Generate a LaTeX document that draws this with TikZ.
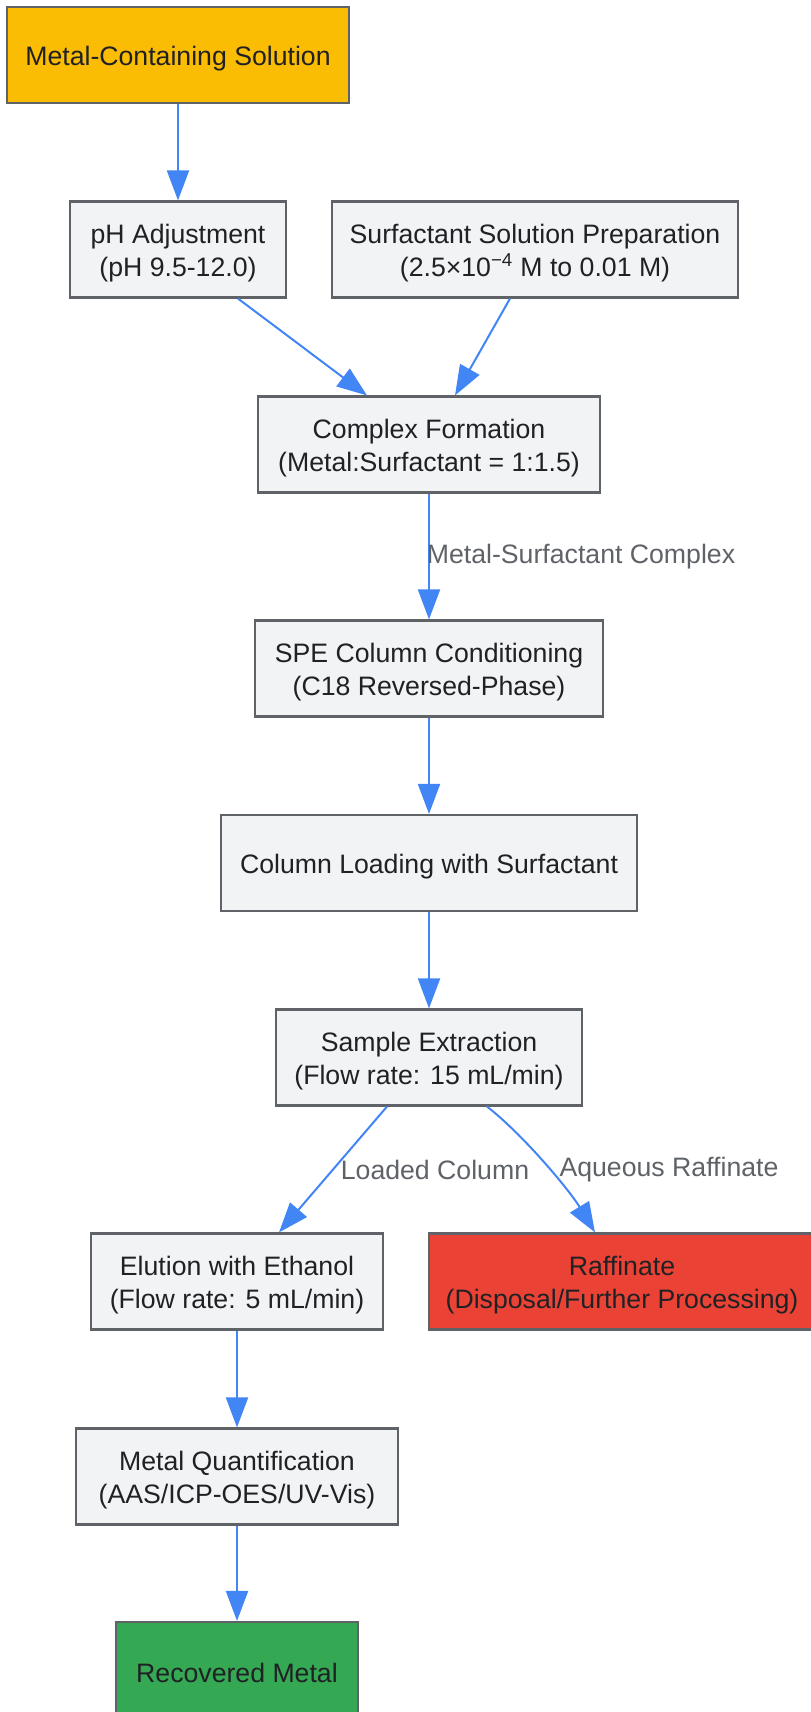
\documentclass[tikz,border=0pt]{standalone}
\usepackage{fontspec}
\setmainfont{Liberation Sans}
\usetikzlibrary{arrows.meta,calc}

\definecolor{flowblue}{HTML}{4285F4}
\definecolor{boxgray}{HTML}{F1F3F4}
\definecolor{boxline}{HTML}{5F6368}
\definecolor{startorange}{HTML}{FBBC04}
\definecolor{wastered}{HTML}{EA4335}
\definecolor{endgreen}{HTML}{34A853}
\definecolor{txtdark}{HTML}{202124}

\tikzset{
  box/.style={draw=boxline, line width=1.6pt, fill=boxgray, minimum height=72pt,
    align=center, text=txtdark, inner sep=0pt, font=\fontsize{20pt}{25pt}\selectfont,
    text height=19.5pt},
  tall/.style={text height=44.5pt},
  flow/.style={draw=flowblue, line width=1.5pt, -{Triangle[length=22.5pt,width=16.5pt]}},
  lbl/.style={text=boxline, inner sep=0pt, font=\fontsize{20pt}{24pt}\selectfont},
}

\begin{document}
\begin{tikzpicture}[x=0.75pt,y=-0.75pt]
\useasboundingbox (0,0) rectangle (810,1712);
\node[box,fill=startorange,minimum width=256.5pt] (mcs) at (178,55) {Metal-Containing Solution};
\node[box,tall,minimum width=162pt] (ph) at (178,249.5) {pH Adjustment\\(pH 9.5-12.0)};
\node[box,tall,minimum width=304.5pt] (ssp) at (535,249.5) {Surfactant Solution Preparation\\(2.5×10\textsuperscript{−4} M to 0.01 M)};
\node[box,tall,minimum width=256.5pt] (cf) at (429,444.5) {Complex Formation\\(Metal:Surfactant = 1:1.5)};
\node[box,tall,minimum width=261pt] (spe) at (429,668.5) {SPE Column Conditioning\\(C18 Reversed-Phase)};
\node[box,minimum width=312pt] (cl) at (429,863) {Column Loading with Surfactant};
\node[box,tall,minimum width=229.5pt] (se) at (429,1057.5) {Sample Extraction\\(Flow rate: 15 mL/min)};
\node[box,tall,minimum width=219pt] (el) at (237,1281.5) {Elution with Ethanol\\(Flow rate: 5 mL/min)};
\node[box,tall,fill=wastered,minimum width=289.5pt] (raf) at (622,1281.5) {Raffinate\\(Disposal/Further Processing)};
\node[box,tall,minimum width=241.5pt] (mq) at (237,1476.5) {Metal Quantification\\(AAS/ICP-OES/UV-Vis)};
\node[box,fill=endgreen,minimum width=181.5pt] (rm) at (237,1670) {Recovered Metal};

\draw[flow] (mcs) -- (ph);
\draw[flow] ($(ph.south)+(60,0)$) -- ($(cf.north)+(-62,0)$);
\draw[flow] ($(ssp.south)+(-25,0)$) -- ($(cf.north)+(26,0)$);
\draw[flow] (cf) -- (spe);
\draw[flow] (spe) -- (cl);
\draw[flow] (cl) -- (se);
\draw[flow] ($(se.south)+(-42,0)$) -- ($(el.north)+(42,0)$);
\draw[flow] ($(se.south)+(58,0)$) .. controls +(35,27) and +(-26,-43) .. ($(raf.north)+(-27,0)$);
\draw[flow] (el) -- (mq);
\draw[flow] (mq) -- (rm);

\node[lbl] (lblcomplex) at (581,557) {Metal-Surfactant Complex};
\node[lbl] (lblloaded) at (435,1170) {Loaded Column};
\node[lbl] (lblaqueous) at (669,1170) {Aqueous Raffinate};
\end{tikzpicture}
\end{document}
